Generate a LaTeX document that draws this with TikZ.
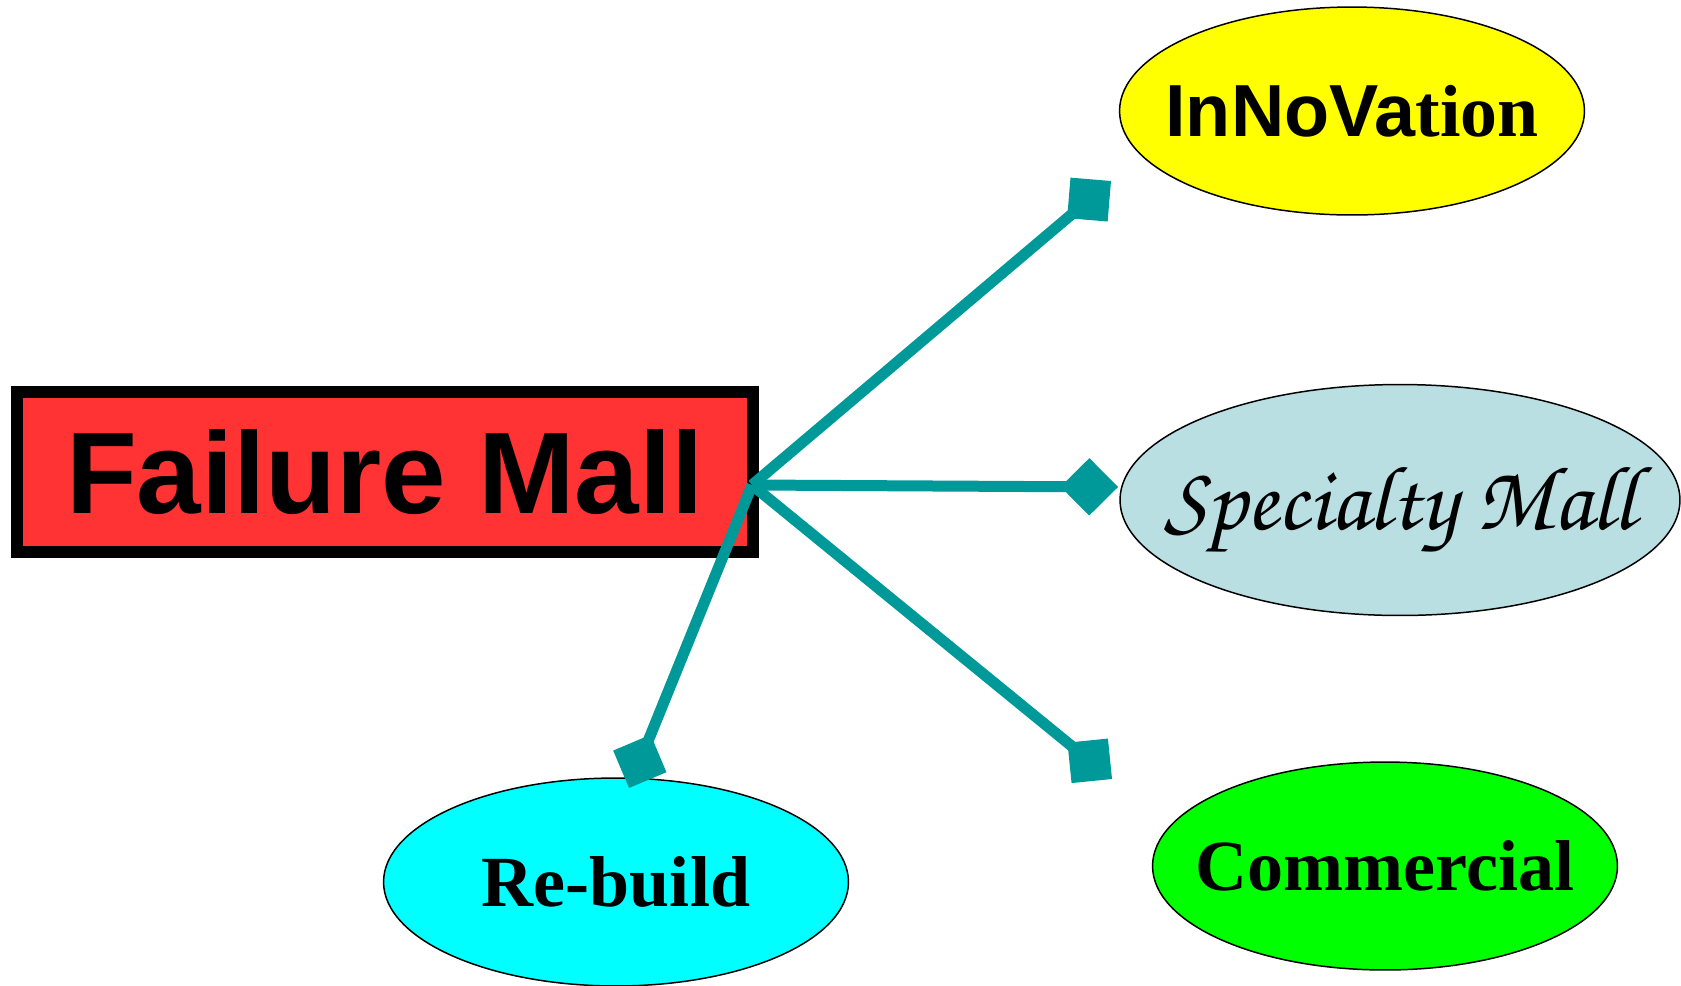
\documentclass[tikz,border=0pt]{standalone}
\usepackage{fontspec}
\setmainfont{Liberation Serif}
\newfontfamily\arialfont{Liberation Sans}
\newfontfamily\chancery{TeX Gyre Chorus}
\usetikzlibrary{shapes.geometric,arrows.meta}

\definecolor{linkteal}{RGB}{0,153,153}
\definecolor{failred}{RGB}{255,51,51}
\definecolor{paleblue}{RGB}{185,223,227}
\definecolor{ovalyellow}{RGB}{255,255,0}
\definecolor{ovalgreen}{RGB}{0,255,0}
\definecolor{ovalcyan}{RGB}{0,255,255}

\begin{document}
\begin{tikzpicture}[x=0.02cm,y=-0.02cm,
  oval/.style={ellipse,draw=black,line width=0.85pt,inner sep=0pt,minimum width=9.3cm,minimum height=4.16cm},
  link/.style={linkteal,line width=0.22cm,-{Diamond[length=1.15cm,width=1.15cm]}}]
\useasboundingbox (0,0) rectangle (1681,985);

% Main box
\node[draw=black,line width=0.24cm,fill=failred,inner sep=0pt,
  minimum width=14.72cm,minimum height=3.19cm] (fail) at (385,472)
  {\arialfont\bfseries\fontsize{66}{70}\selectfont Failure Mall};

% Options
\node[oval,fill=ovalyellow,
  label=center:{\bfseries\fontsize{42}{46}\selectfont{\arialfont InNoVa}tion}] (inno) at (1352,111) {};
\node[oval,fill=paleblue,minimum width=11.2cm,minimum height=4.62cm,
  label={[yshift=-0.2cm]center:{\chancery\fontsize{52}{56}\selectfont Specialty Mall}}] (spec) at (1400,500) {};
\node[oval,fill=ovalgreen,
  label=center:{\bfseries\fontsize{41}{45}\selectfont Commercial}] (comm) at (1385,866) {};
\node[oval,fill=ovalcyan,
  label=center:{\bfseries\fontsize{41}{45}\selectfont Re-build}] (rebuild) at (616,882) {};

% Connectors
\coordinate (hub) at (752,485);
\coordinate (innoend) at (1111,181);
\coordinate (specend) at (1118,487);
\coordinate (commend) at (1112,779);
\coordinate (rebuildend) at (629,788);
\draw[link] (hub) -- (innoend);
\draw[link] (hub) -- (specend);
\draw[link] (hub) -- (commend);
\draw[link] (hub) -- (rebuildend);
\end{tikzpicture}
\end{document}
